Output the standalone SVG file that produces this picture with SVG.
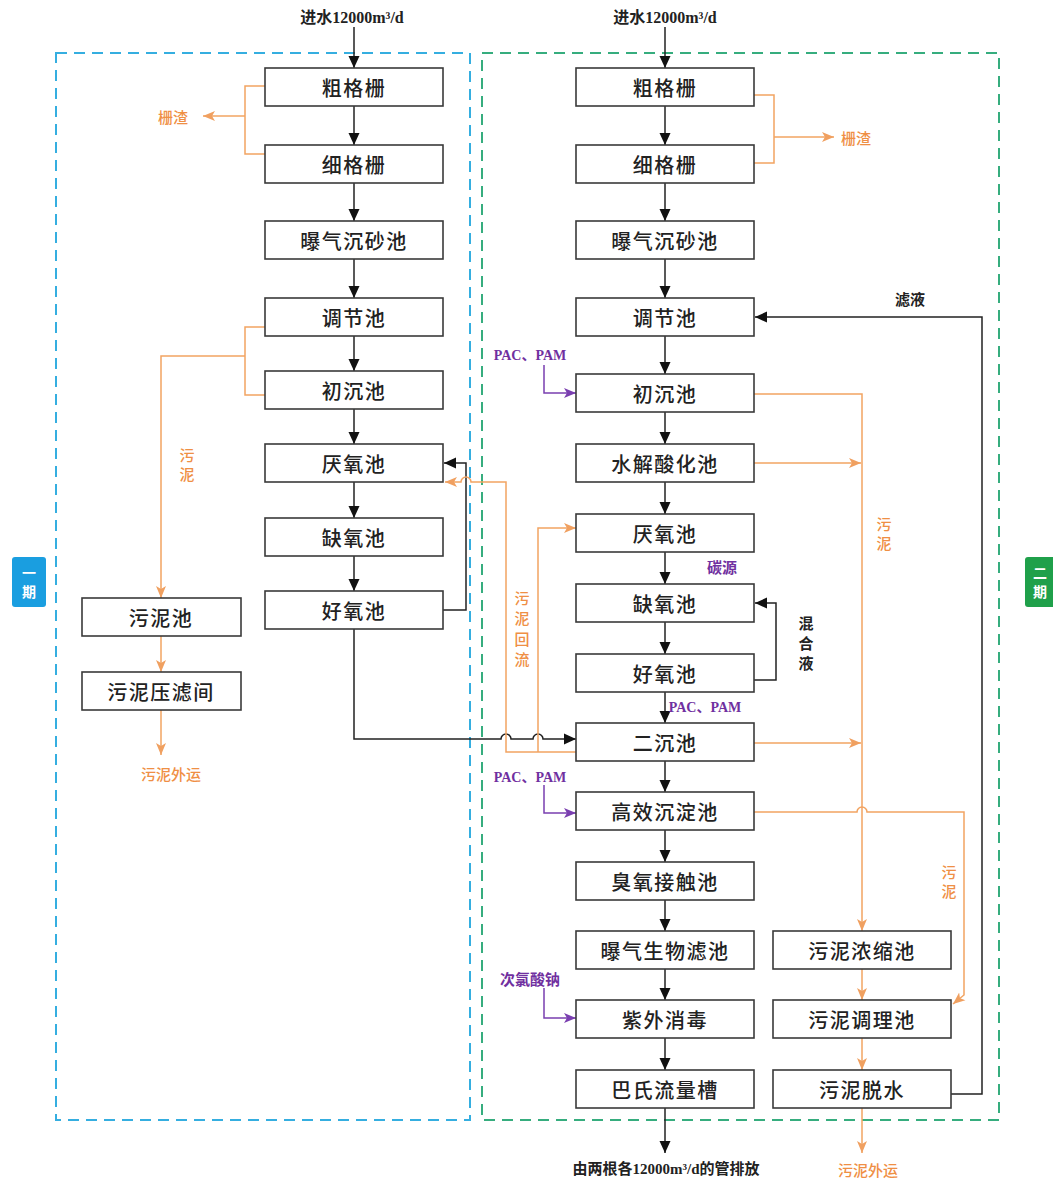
<svg xmlns="http://www.w3.org/2000/svg" width="1053" height="1180" viewBox="0 0 1053 1180">
<style>
.bx{fill:#fff;stroke:#3a3a3a;stroke-width:1.6}
.bt{font-family:"Noto Sans CJK SC","Noto Sans",sans-serif;font-size:20px;font-weight:500;letter-spacing:1.5px;fill:#222;text-anchor:middle;dominant-baseline:central}
.k{fill:none;stroke:#222;stroke-width:1.5}
.o{fill:none;stroke:#f2a462;stroke-width:1.5}
.p{fill:none;stroke:#7a3fb0;stroke-width:1.5}
.ot{font-family:"Noto Sans CJK SC",sans-serif;font-size:15px;font-weight:500;fill:#ef8f45;text-anchor:middle;dominant-baseline:central}
.pt{font-family:"Liberation Serif","Noto Sans CJK SC",serif;font-size:14px;font-weight:bold;fill:#7030a0;text-anchor:middle;dominant-baseline:central}
.pc{font-family:"Noto Sans CJK SC",sans-serif;font-size:15px;font-weight:bold;fill:#7030a0;text-anchor:middle;dominant-baseline:central}
.kt{font-family:"Noto Sans CJK SC",sans-serif;font-size:15px;font-weight:bold;fill:#222;text-anchor:middle;dominant-baseline:central}
.st{font-family:"Liberation Serif","Noto Sans CJK SC",serif;font-size:16px;font-weight:bold;fill:#222;text-anchor:middle;dominant-baseline:central}
.lb{font-family:"Noto Sans CJK SC",sans-serif;font-size:14px;font-weight:bold;fill:#fff;text-anchor:middle;dominant-baseline:central}
</style>
<defs>
<marker id="ak" viewBox="0 0 12 12" refX="12" refY="6" markerWidth="12" markerHeight="12" markerUnits="userSpaceOnUse" orient="auto"><path d="M0,0.5 L12,6 L0,11.5 z" fill="#111"/></marker>
<marker id="ao" viewBox="0 0 12 12" refX="12" refY="6" markerWidth="12" markerHeight="12" markerUnits="userSpaceOnUse" orient="auto"><path d="M0,1 L12,6 L0,11 L3,6 z" fill="#f0a060"/></marker>
<marker id="ap" viewBox="0 0 12 12" refX="12" refY="6" markerWidth="12" markerHeight="12" markerUnits="userSpaceOnUse" orient="auto"><path d="M0,1 L12,6 L0,11 L3,6 z" fill="#7a3fb0"/></marker>
</defs>
<rect width="1053" height="1180" fill="#fff"/>

<g id="phase-frames">
<rect x="56" y="53" width="414" height="1067" fill="none" stroke="#35aee0" stroke-width="2" stroke-dasharray="11,7"/>
<rect x="482" y="53" width="517" height="1067" fill="none" stroke="#36ad7e" stroke-width="2" stroke-dasharray="11,7"/>
</g>

<g id="label-phase1"><rect x="12" y="557" width="34" height="50" rx="3" fill="#1a9ee0"/><text class="lb" x="29" y="572">一</text><text class="lb" x="29" y="591">期</text></g>
<g id="label-phase2"><rect x="1025" y="557" width="34" height="50" rx="3" fill="#1fa04a"/><text class="lb" x="1040" y="572">二</text><text class="lb" x="1040" y="591">期</text></g>

<g id="connectors">
<path class="k" d="M354,27 V68" marker-end="url(#ak)"/>
<path class="k" d="M665,27 V68" marker-end="url(#ak)"/>
<path class="k" d="M354,106 V145" marker-end="url(#ak)"/>
<path class="k" d="M354,183 V221" marker-end="url(#ak)"/>
<path class="k" d="M354,259 V298" marker-end="url(#ak)"/>
<path class="k" d="M354,336 V371" marker-end="url(#ak)"/>
<path class="k" d="M354,409 V444" marker-end="url(#ak)"/>
<path class="k" d="M354,482 V518" marker-end="url(#ak)"/>
<path class="k" d="M354,556 V591" marker-end="url(#ak)"/>
<path class="k" d="M443,610 H466 V463 H444" marker-end="url(#ak)"/>
<path class="k" d="M354,629 V739 H501 a5,5 0 0 1 10,0 H533 a5,5 0 0 1 10,0 H576" marker-end="url(#ak)"/>
<path class="o" d="M265,86 H245 V154 H265"/>
<path class="o" d="M245,116 H203" marker-end="url(#ao)"/>
<path class="o" d="M265,327 H245 V395 H265"/>
<path class="o" d="M245,356 H161 V598" marker-end="url(#ao)"/>
<path class="o" d="M161,636 V672" marker-end="url(#ao)"/>
<path class="o" d="M161,710 V755" marker-end="url(#ao)"/>
<path class="o" d="M576,752 H506 V482 H471 a5,5 0 0 0 -10,0 H445" marker-end="url(#ao)"/>
<path class="o" d="M538,752 V528 H576" marker-end="url(#ao)"/>
<path class="k" d="M665,106 V145" marker-end="url(#ak)"/>
<path class="k" d="M665,183 V221" marker-end="url(#ak)"/>
<path class="k" d="M665,259 V298" marker-end="url(#ak)"/>
<path class="k" d="M665,336 V374" marker-end="url(#ak)"/>
<path class="k" d="M665,412 V444" marker-end="url(#ak)"/>
<path class="k" d="M665,482 V514" marker-end="url(#ak)"/>
<path class="k" d="M665,552 V584" marker-end="url(#ak)"/>
<path class="k" d="M665,622 V654" marker-end="url(#ak)"/>
<path class="k" d="M665,692 V723" marker-end="url(#ak)"/>
<path class="k" d="M665,761 V792" marker-end="url(#ak)"/>
<path class="k" d="M665,830 V862" marker-end="url(#ak)"/>
<path class="k" d="M665,900 V931" marker-end="url(#ak)"/>
<path class="k" d="M665,969 V1000" marker-end="url(#ak)"/>
<path class="k" d="M665,1038 V1070" marker-end="url(#ak)"/>
<path class="k" d="M665,1108 V1153" marker-end="url(#ak)"/>
<path class="k" d="M754,680 H776 V603 H755" marker-end="url(#ak)"/>
<path class="k" d="M951,1094 H982 V317 H755" marker-end="url(#ak)"/>
<path class="o" d="M754,95 H774 V163 H754"/>
<path class="o" d="M774,137 H834" marker-end="url(#ao)"/>
<path class="o" d="M754,394 H862 V931" marker-end="url(#ao)"/>
<path class="o" d="M754,463 H861" marker-end="url(#ao)"/>
<path class="o" d="M754,743 H861" marker-end="url(#ao)"/>
<path class="o" d="M754,812 H857 a5,5 0 0 1 10,0 H964 V995 L953,1004" marker-end="url(#ao)"/>
<path class="o" d="M862,969 V1000" marker-end="url(#ao)"/>
<path class="o" d="M862,1038 V1070" marker-end="url(#ao)"/>
<path class="o" d="M862,1108 V1153" marker-end="url(#ao)"/>
<path class="p" d="M544,365 V393 H576" marker-end="url(#ap)"/>
<path class="p" d="M544,785 V813 H576" marker-end="url(#ap)"/>
<path class="p" d="M544,988 V1018 H576" marker-end="url(#ap)"/>
</g>

<g id="n-l1"><rect class="bx" x="265" y="68" width="178" height="38"/><text class="bt" x="354" y="87">粗格栅</text></g>
<g id="n-l2"><rect class="bx" x="265" y="145" width="178" height="38"/><text class="bt" x="354" y="164">细格栅</text></g>
<g id="n-l3"><rect class="bx" x="265" y="221" width="178" height="38"/><text class="bt" x="354" y="240">曝气沉砂池</text></g>
<g id="n-l4"><rect class="bx" x="265" y="298" width="178" height="38"/><text class="bt" x="354" y="317">调节池</text></g>
<g id="n-l5"><rect class="bx" x="265" y="371" width="178" height="38"/><text class="bt" x="354" y="390">初沉池</text></g>
<g id="n-l6"><rect class="bx" x="265" y="444" width="178" height="38"/><text class="bt" x="354" y="463">厌氧池</text></g>
<g id="n-l7"><rect class="bx" x="265" y="518" width="178" height="38"/><text class="bt" x="354" y="537">缺氧池</text></g>
<g id="n-l8"><rect class="bx" x="265" y="591" width="178" height="38"/><text class="bt" x="354" y="610">好氧池</text></g>
<g id="n-ls1"><rect class="bx" x="82" y="598" width="159" height="38"/><text class="bt" x="161" y="617">污泥池</text></g>
<g id="n-ls2"><rect class="bx" x="82" y="672" width="159" height="38"/><text class="bt" x="161" y="691">污泥压滤间</text></g>

<g id="n-r1"><rect class="bx" x="576" y="68" width="178" height="38"/><text class="bt" x="665" y="87">粗格栅</text></g>
<g id="n-r2"><rect class="bx" x="576" y="145" width="178" height="38"/><text class="bt" x="665" y="164">细格栅</text></g>
<g id="n-r3"><rect class="bx" x="576" y="221" width="178" height="38"/><text class="bt" x="665" y="240">曝气沉砂池</text></g>
<g id="n-r4"><rect class="bx" x="576" y="298" width="178" height="38"/><text class="bt" x="665" y="317">调节池</text></g>
<g id="n-r5"><rect class="bx" x="576" y="374" width="178" height="38"/><text class="bt" x="665" y="393">初沉池</text></g>
<g id="n-r6"><rect class="bx" x="576" y="444" width="178" height="38"/><text class="bt" x="665" y="463">水解酸化池</text></g>
<g id="n-r7"><rect class="bx" x="576" y="514" width="178" height="38"/><text class="bt" x="665" y="533">厌氧池</text></g>
<g id="n-r8"><rect class="bx" x="576" y="584" width="178" height="38"/><text class="bt" x="665" y="603">缺氧池</text></g>
<g id="n-r9"><rect class="bx" x="576" y="654" width="178" height="38"/><text class="bt" x="665" y="673">好氧池</text></g>
<g id="n-r10"><rect class="bx" x="576" y="723" width="178" height="38"/><text class="bt" x="665" y="742">二沉池</text></g>
<g id="n-r11"><rect class="bx" x="576" y="792" width="178" height="38"/><text class="bt" x="665" y="811">高效沉淀池</text></g>
<g id="n-r12"><rect class="bx" x="576" y="862" width="178" height="38"/><text class="bt" x="665" y="881">臭氧接触池</text></g>
<g id="n-r13"><rect class="bx" x="576" y="931" width="178" height="38"/><text class="bt" x="665" y="950">曝气生物滤池</text></g>
<g id="n-r14"><rect class="bx" x="576" y="1000" width="178" height="38"/><text class="bt" x="665" y="1019">紫外消毒</text></g>
<g id="n-r15"><rect class="bx" x="576" y="1070" width="178" height="38"/><text class="bt" x="665" y="1089">巴氏流量槽</text></g>
<g id="n-rs1"><rect class="bx" x="773" y="931" width="178" height="38"/><text class="bt" x="862" y="950">污泥浓缩池</text></g>
<g id="n-rs2"><rect class="bx" x="773" y="1000" width="178" height="38"/><text class="bt" x="862" y="1019">污泥调理池</text></g>
<g id="n-rs3"><rect class="bx" x="773" y="1070" width="178" height="38"/><text class="bt" x="862" y="1089">污泥脱水</text></g>

<g id="labels">
<text class="st" x="352" y="17">进水12000m³/d</text>
<text class="st" x="665" y="17">进水12000m³/d</text>
<text class="st" x="666" y="1169" style="font-size:15px">由两根各12000m³/d的管排放</text>
<text class="ot" x="173" y="116">栅渣</text>
<text class="ot" x="856" y="137">栅渣</text>
<text class="ot" x="187" y="454">污</text>
<text class="ot" x="187" y="473">泥</text>
<text class="ot" x="171" y="773">污泥外运</text>
<text class="ot" x="868" y="1169">污泥外运</text>
<text class="ot" x="522" y="597">污</text>
<text class="ot" x="522" y="617">泥</text>
<text class="ot" x="522" y="638">回</text>
<text class="ot" x="522" y="658">流</text>
<text class="ot" x="884" y="523">污</text>
<text class="ot" x="884" y="542">泥</text>
<text class="ot" x="949" y="871">污</text>
<text class="ot" x="949" y="890">泥</text>
<text class="kt" x="910" y="298">滤液</text>
<text class="kt" x="806" y="622">混</text>
<text class="kt" x="806" y="642">合</text>
<text class="kt" x="806" y="662">液</text>
<text class="pt" x="530" y="355">PAC、PAM</text>
<text class="pt" x="705" y="707">PAC、PAM</text>
<text class="pt" x="530" y="777">PAC、PAM</text>
<text class="pc" x="722" y="566">碳源</text>
<text class="pc" x="530" y="978">次氯酸钠</text>
</g>
</svg>
